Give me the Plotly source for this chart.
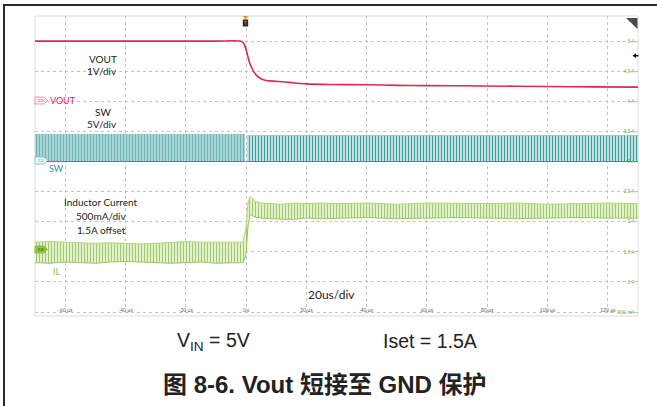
import plotly.graph_objects as go

# ---------------- data ----------------
# time axis in microseconds
x_tick_vals = [-60, -40, -20, 0, 20, 40, 60, 80, 100, 120]
x_tick_text = ["-60 µs", "-40 µs", "-20 µs", "0 s", "20 µs", "40 µs", "60 µs", "80 µs", "100 µs", "120 µs"]

# right-hand scale (inductor-current channel, 500 mA/div)
y_tick_vals = [0.5, 1.0, 1.5, 2.0, 2.5, 3.0, 3.5, 4.0, 4.5, 5.0]
y_tick_text = ["500 mA", "1 A", "1.5 A", "2 A", "2.5 A", "3 A", "3.5 A", "4 A", "4.5 A", "5 A"]

# VOUT (V), 1 V/div
vout_t = [-70, -40, -10, -2.0, -0.8, 0.0, 0.7, 1.4, 2.4, 3.5, 4.8, 6.3, 9, 12.3, 16, 20, 28, 40, 50, 60, 79, 100, 115, 130]
vout_v = [2.0, 2.0, 2.0, 2.0, 1.93, 1.72, 1.45, 1.22, 1.01, 0.86, 0.76, 0.70, 0.67, 0.65, 0.61, 0.58, 0.56, 0.55, 0.53, 0.52, 0.51, 0.49, 0.48, 0.47]

# SW node envelope (V), 5 V/div
sw_t = [-70, -35, -0.3, 0.3, 30, 65, 100, 130]
sw_high = [4.5, 4.5, 4.5, 4.3, 4.3, 4.35, 4.3, 4.3]
sw_low = [0.0, 0.0, 0.0, 0.0, 0.0, 0.0, 0.0, 0.0]

# Inductor current ripple envelope (A)
il_t = [-70, -65, -60, -55, -50, -45, -40, -35, -30, -25, -20, -15, -10, -5, -1,
        0, 0.6, 1.3, 2, 3, 5, 8, 12, 16, 20, 25, 30, 40, 50, 60, 70, 80, 90, 100, 110, 120, 130]
il_high = [1.66, 1.67, 1.66, 1.65, 1.64, 1.65, 1.64, 1.63, 1.64, 1.66, 1.67, 1.66, 1.66, 1.67, 1.66,
           1.90, 2.30, 2.42, 2.38, 2.34, 2.31, 2.30, 2.29, 2.31, 2.30, 2.31, 2.30, 2.31, 2.29, 2.31, 2.30, 2.30, 2.31, 2.29, 2.30, 2.31, 2.30]
il_low = [1.32, 1.31, 1.33, 1.32, 1.31, 1.33, 1.34, 1.33, 1.32, 1.31, 1.32, 1.33, 1.31, 1.32, 1.32,
          1.45, 1.90, 2.12, 2.10, 2.08, 2.06, 2.05, 2.04, 2.04, 2.06, 2.05, 2.06, 2.07, 2.05, 2.06, 2.07, 2.06, 2.05, 2.06, 2.07, 2.06, 2.06]

# channel scaling onto the common grid (0.5 grid units per division)
VOUT_OFFSET, VOUT_SCALE = 4.0, 0.5   # 1 V/div, ground at grid 4.0
SW_OFFSET, SW_SCALE = 3.0, 0.1       # 5 V/div, ground at grid 3.0

X_RANGE = [-70, 130]
Y_RANGE = [0.4336, 5.417]

# ---------------- figure ----------------
W, H = 657, 406
ML, MR, MT, MB = 35, 19, 16, 90
PW, PH = W - ML - MR, H - MT - MB


def px(x):
    return (x - ML) / PW


def py(y):
    return (MT + PH - y) / PH


fig = go.Figure()

# inductor current band
fig.add_trace(go.Scatter(x=il_t, y=il_low, mode="lines",
                         line=dict(color="#9cc85c", width=1), hoverinfo="skip"))
fig.add_trace(go.Scatter(x=il_t, y=il_high, mode="lines", fill="tonexty",
                         line=dict(color="#b4d683", width=1),
                         fillpattern=dict(shape="|", size=3, solidity=0.35,
                                          fgcolor="#a0cb62", bgcolor="#e3f0d2", fillmode="replace"),
                         hoverinfo="skip"))

# SW band (before / after the short)
def sw_seg(cond):
    idx = [i for i, t in enumerate(sw_t) if cond(t)]
    return ([sw_t[i] for i in idx],
            [SW_OFFSET + SW_SCALE * sw_low[i] for i in idx],
            [SW_OFFSET + SW_SCALE * sw_high[i] for i in idx])


for cond, fg, bg, size, sol in [(lambda t: t < 0, "#6ab5b5", "#b2d8d8", 3, 0.4),
                                (lambda t: t > 0, "#3a9e9e", "#d2e9e9", 3, 0.4)]:
    tt, lo, hi = sw_seg(cond)
    fig.add_trace(go.Scatter(x=tt, y=lo, mode="lines",
                             line=dict(color="#2f9a9a", width=1.2), hoverinfo="skip"))
    fig.add_trace(go.Scatter(x=tt, y=hi, mode="lines", fill="tonexty",
                             line=dict(color="#7cc2c2", width=0.8),
                             fillpattern=dict(shape="|", size=size, solidity=sol,
                                              fgcolor=fg, bgcolor=bg, fillmode="replace"),
                             hoverinfo="skip"))

# VOUT
fig.add_trace(go.Scatter(x=vout_t, y=[VOUT_OFFSET + VOUT_SCALE * v for v in vout_v],
                         mode="lines", line=dict(color="#dc2a50", width=1.6, shape="spline", smoothing=0.6),
                         hoverinfo="skip"))

fig.update_layout(
    width=W, height=H, margin=dict(l=ML, r=MR, t=MT, b=MB),
    paper_bgcolor="white", plot_bgcolor="white", showlegend=False,
    xaxis=dict(range=X_RANGE, tickvals=x_tick_vals, ticktext=x_tick_text,
               showgrid=True, gridcolor="#c4c4c4", griddash="dot", gridwidth=1,
               zeroline=False, showline=False, ticks="", ticklabelposition="inside",
               ticklabeloverflow="allow",
               tickfont=dict(size=5, color="#666666", family="Lato"), fixedrange=True),
    yaxis=dict(range=Y_RANGE, side="right", tickvals=y_tick_vals, ticktext=y_tick_text,
               showgrid=True, gridcolor="#c4c4c4", griddash="dot", gridwidth=1,
               zeroline=False, showline=False, ticks="", ticklabelposition="inside",
               ticklabeloverflow="allow",
               tickfont=dict(size=5, color="#7ea83c", family="Lato"), fixedrange=True),
)

shapes = []
# outer frame lines
shapes.append(dict(type="line", xref="paper", yref="paper", x0=px(3), x1=px(657), y0=py(5), y1=py(5),
                   line=dict(color="#2a2a2a", width=2)))
shapes.append(dict(type="line", xref="paper", yref="paper", x0=px(4), x1=px(4), y0=py(4), y1=py(406),
                   line=dict(color="#2a2a2a", width=2)))
# plot border
shapes.append(dict(type="rect", xref="paper", yref="paper", x0=0, x1=1, y0=0, y1=1,
                   line=dict(color="#dcdcdc", width=1), layer="below"))


def tag(yc, line_c, fill_c):
    path = (f"M{px(35)},{py(yc-3.5)} L{px(44)},{py(yc-3.5)} L{px(47.5)},{py(yc)} "
            f"L{px(44)},{py(yc+3.5)} L{px(35)},{py(yc+3.5)} Z")
    return dict(type="path", xref="paper", yref="paper", path=path,
                line=dict(color=line_c, width=1), fillcolor=fill_c)


shapes.append(tag(100.5, "#ee9aae", "#fdf1f4"))
shapes.append(tag(160.5, "#7fcaca", "#f4fbfb"))
shapes.append(tag(249.5, "#8cc63f", "#8cc63f"))
# trigger marker
shapes.append(dict(type="path", xref="paper", yref="paper",
                   path=f"M{px(242.5)},{py(16)} L{px(248.5)},{py(16)} L{px(245.5)},{py(19.5)} Z",
                   fillcolor="#f7941d", line=dict(width=0)))
shapes.append(dict(type="rect", xref="paper", yref="paper", x0=px(242.8), x1=px(248.2),
                   y0=py(26.5), y1=py(19.5), fillcolor="#2b2b2b", line=dict(width=0)))
# top-right corner triangle
shapes.append(dict(type="path", xref="paper", yref="paper",
                   path=f"M{px(626)},{py(18)} L{px(637.5)},{py(18)} L{px(637.5)},{py(29)} Z",
                   fillcolor="#4a4a4a", line=dict(width=0)))
# offset arrow
shapes.append(dict(type="path", xref="paper", yref="paper",
                   path=f"M{px(632.5)},{py(55.7)} L{px(636)},{py(53.3)} L{px(636)},{py(58.1)} Z",
                   fillcolor="#220000", line=dict(width=0)))
shapes.append(dict(type="line", xref="paper", yref="paper", x0=px(635), x1=px(638.5),
                   y0=py(55.7), y1=py(55.7), line=dict(color="#220000", width=1.5)))
fig.update_layout(shapes=shapes)

ann = []


def text(x, y, s, size=10, color="#222222", family="Lato", **kw):
    ann.append(dict(x=px(x), y=py(y), xref="paper", yref="paper", text=s, showarrow=False,
                    font=dict(size=size, color=color, family=family),
                    xanchor=kw.get("xanchor", "center"), yanchor="middle"))


text(103, 59, "VOUT")
text(102, 71, "1V/div")
text(102.5, 111.5, "SW")
text(102, 124, "5V/div")
text(100.7, 202.3, "Inductor Current")
text(101, 215.7, "500mA/div")
text(101, 230, "1.5A offset")
text(331.5, 294, "20us/div", size=12)
text(62.5, 100.5, "VOUT", size=9, color="#dc2a50")
text(40.5, 100.5, "C3", size=4.5, color="#dc2a50")
text(56, 168.3, "SW", size=9, color="#27a0a0")
text(40.5, 160.5, "C2", size=4.5, color="#27a0a0")
text(57, 271.7, "IL", size=9, color="#8cc63f")
text(40.5, 249.5, "C4", size=4.5, color="#2b4010")
text(245.5, 23, "T", size=5, color="#f7941d")
text(213, 341, "V<sub>IN</sub> = 5V", size=19.5, family="Liberation Sans, Arial")
text(430, 341, "Iset = 1.5A", size=19.5, family="Liberation Sans, Arial")
text(325, 384, "<b>图 8-6. Vout 短接至 GND 保护</b>", size=24,
     family="Liberation Sans, Arial, Noto Sans CJK SC")
fig.update_layout(annotations=ann)

fig.write_html("out.html")
